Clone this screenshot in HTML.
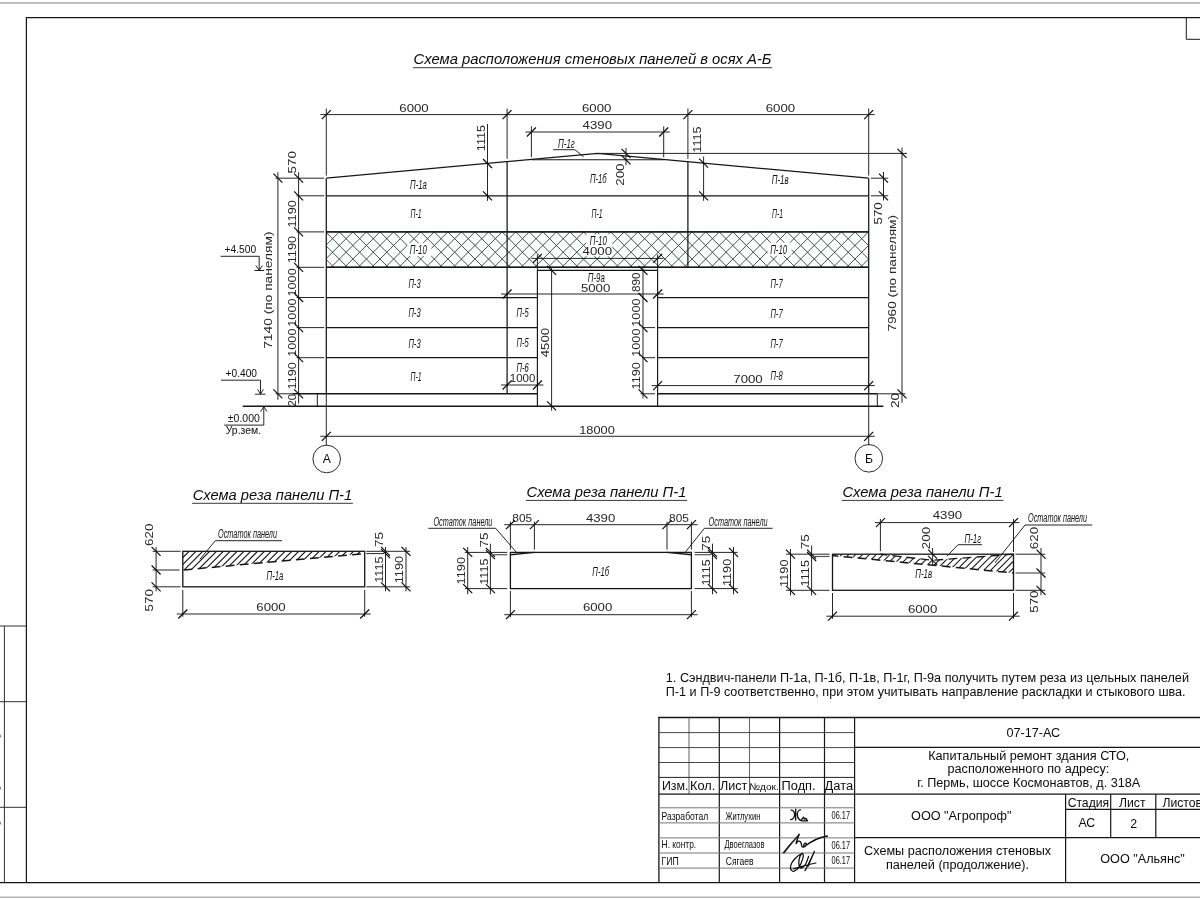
<!DOCTYPE html>
<html lang="ru"><head><meta charset="utf-8"><title>07-17-АС Лист 2</title>
<style>
html,body{margin:0;padding:0;background:#fff;}
body{width:1200px;height:900px;overflow:hidden;font-family:"Liberation Sans",sans-serif;}
svg{display:block;font-family:"Liberation Sans",sans-serif;}
svg text{white-space:pre;}
</style></head><body>
<svg width="1200" height="900" viewBox="0 0 1200 900">
<g style="will-change:transform">
<rect x="0" y="2.2" width="1200" height="1.5" fill="#a9a9a9"/>
<rect x="0" y="896.6" width="1200" height="1.3" fill="#a9a9a9"/>
<line x1="26.4" y1="17.7" x2="1200" y2="17.7" stroke="#161616" stroke-width="1.2"/>
<line x1="26.4" y1="17.1" x2="26.4" y2="882.6" stroke="#161616" stroke-width="1.2"/>
<line x1="0" y1="882.6" x2="1200" y2="882.6" stroke="#161616" stroke-width="1.2"/>
<line x1="1186.3" y1="17.7" x2="1186.3" y2="39.3" stroke="#1a1a1a" stroke-width="1"/>
<line x1="1186.3" y1="39.3" x2="1200" y2="39.3" stroke="#1a1a1a" stroke-width="1"/>
<line x1="4.4" y1="626" x2="4.4" y2="882.6" stroke="#1a1a1a" stroke-width="0.9"/>
<line x1="0" y1="626" x2="26.4" y2="626" stroke="#1a1a1a" stroke-width="0.9"/>
<line x1="0" y1="701.7" x2="26.4" y2="701.7" stroke="#1a1a1a" stroke-width="0.9"/>
<line x1="0" y1="807.3" x2="26.4" y2="807.3" stroke="#1a1a1a" stroke-width="0.9"/>
<line x1="0" y1="734.5" x2="0.8" y2="737.5" stroke="#555" stroke-width="0.8"/>
<line x1="0" y1="786.5" x2="0.8" y2="789.5" stroke="#555" stroke-width="0.8"/>
<line x1="0" y1="821.5" x2="0.8" y2="824.5" stroke="#555" stroke-width="0.8"/>
<defs><clipPath id="cp10"><rect x="326.3" y="231.9" width="542.4" height="35.4"/></clipPath></defs>
<g clip-path="url(#cp10)" stroke="#27503f" stroke-width="0.95" fill="none">
<path d="M257.88 231.9L293.28 267.3M257.88 231.9L222.48 267.3M271.45 231.9L306.85 267.3M271.45 231.9L236.05 267.3M285.02 231.9L320.42 267.3M285.02 231.9L249.62 267.3M298.59 231.9L333.99 267.3M298.59 231.9L263.19 267.3M312.16 231.9L347.56 267.3M312.16 231.9L276.76 267.3M325.73 231.9L361.13 267.3M325.73 231.9L290.33 267.3M339.3 231.9L374.7 267.3M339.3 231.9L303.9 267.3M352.87 231.9L388.27 267.3M352.87 231.9L317.47 267.3M366.44 231.9L401.84 267.3M366.44 231.9L331.04 267.3M380.01 231.9L415.41 267.3M380.01 231.9L344.61 267.3M393.58 231.9L428.98 267.3M393.58 231.9L358.18 267.3M407.15 231.9L442.55 267.3M407.15 231.9L371.75 267.3M420.72 231.9L456.12 267.3M420.72 231.9L385.32 267.3M434.29 231.9L469.69 267.3M434.29 231.9L398.89 267.3M447.86 231.9L483.26 267.3M447.86 231.9L412.46 267.3M461.43 231.9L496.83 267.3M461.43 231.9L426.03 267.3M475 231.9L510.4 267.3M475 231.9L439.6 267.3M488.57 231.9L523.97 267.3M488.57 231.9L453.17 267.3M502.14 231.9L537.54 267.3M502.14 231.9L466.74 267.3M515.71 231.9L551.11 267.3M515.71 231.9L480.31 267.3M529.28 231.9L564.68 267.3M529.28 231.9L493.88 267.3M542.85 231.9L578.25 267.3M542.85 231.9L507.45 267.3M556.42 231.9L591.82 267.3M556.42 231.9L521.02 267.3M569.99 231.9L605.39 267.3M569.99 231.9L534.59 267.3M583.56 231.9L618.96 267.3M583.56 231.9L548.16 267.3M597.13 231.9L632.53 267.3M597.13 231.9L561.73 267.3M610.7 231.9L646.1 267.3M610.7 231.9L575.3 267.3M624.27 231.9L659.67 267.3M624.27 231.9L588.87 267.3M637.84 231.9L673.24 267.3M637.84 231.9L602.44 267.3M651.41 231.9L686.81 267.3M651.41 231.9L616.01 267.3M664.98 231.9L700.38 267.3M664.98 231.9L629.58 267.3M678.55 231.9L713.95 267.3M678.55 231.9L643.15 267.3M692.12 231.9L727.52 267.3M692.12 231.9L656.72 267.3M705.69 231.9L741.09 267.3M705.69 231.9L670.29 267.3M719.26 231.9L754.66 267.3M719.26 231.9L683.86 267.3M732.83 231.9L768.23 267.3M732.83 231.9L697.43 267.3M746.4 231.9L781.8 267.3M746.4 231.9L711 267.3M759.97 231.9L795.37 267.3M759.97 231.9L724.57 267.3M773.54 231.9L808.94 267.3M773.54 231.9L738.14 267.3M787.11 231.9L822.51 267.3M787.11 231.9L751.71 267.3M800.68 231.9L836.08 267.3M800.68 231.9L765.28 267.3M814.25 231.9L849.65 267.3M814.25 231.9L778.85 267.3M827.82 231.9L863.22 267.3M827.82 231.9L792.42 267.3M841.39 231.9L876.79 267.3M841.39 231.9L805.99 267.3M854.96 231.9L890.36 267.3M854.96 231.9L819.56 267.3M868.53 231.9L903.93 267.3M868.53 231.9L833.13 267.3M882.1 231.9L917.5 267.3M882.1 231.9L846.7 267.3M895.67 231.9L931.07 267.3M895.67 231.9L860.27 267.3"/>
</g>
<rect x="407.3" y="243.1" width="24" height="13" fill="#fff"/>
<rect x="586.3" y="234.3" width="26" height="22" fill="#fff"/>
<rect x="767.5" y="242.7" width="24" height="13" fill="#fff"/>
<line x1="326.3" y1="178.2" x2="326.3" y2="393.8" stroke="#161616" stroke-width="1.25"/>
<line x1="868.7" y1="178.2" x2="868.7" y2="393.8" stroke="#161616" stroke-width="1.25"/>
<line x1="507.1" y1="161.67" x2="507.1" y2="393.8" stroke="#161616" stroke-width="1.25"/>
<line x1="687.9" y1="161.67" x2="687.9" y2="267.3" stroke="#161616" stroke-width="1.25"/>
<line x1="507.1" y1="108.5" x2="507.1" y2="158.8" stroke="#1a1a1a" stroke-width="0.95"/>
<line x1="687.9" y1="108.5" x2="687.9" y2="158.8" stroke="#1a1a1a" stroke-width="0.95"/>
<polyline points="326.3,178.2 597.5,153.4 868.7,178.2" fill="none" stroke="#161616" stroke-width="1.25" />
<line x1="326.3" y1="195.8" x2="868.7" y2="195.8" stroke="#161616" stroke-width="1.25"/>
<line x1="326.3" y1="231.9" x2="868.7" y2="231.9" stroke="#161616" stroke-width="1.25"/>
<line x1="326.3" y1="267.3" x2="868.7" y2="267.3" stroke="#161616" stroke-width="1.25"/>
<line x1="326.3" y1="231.9" x2="868.7" y2="231.9" stroke="#161616" stroke-width="1.4"/>
<line x1="326.3" y1="267.3" x2="868.7" y2="267.3" stroke="#161616" stroke-width="1.4"/>
<line x1="326.3" y1="297.5" x2="537.4" y2="297.5" stroke="#161616" stroke-width="1.25"/>
<line x1="657.6" y1="297.5" x2="868.7" y2="297.5" stroke="#161616" stroke-width="1.25"/>
<line x1="326.3" y1="327.6" x2="537.4" y2="327.6" stroke="#161616" stroke-width="1.25"/>
<line x1="657.6" y1="327.6" x2="868.7" y2="327.6" stroke="#161616" stroke-width="1.25"/>
<line x1="326.3" y1="357.7" x2="537.4" y2="357.7" stroke="#161616" stroke-width="1.25"/>
<line x1="657.6" y1="357.7" x2="868.7" y2="357.7" stroke="#161616" stroke-width="1.25"/>
<polyline points="537.4,406.3 537.4,270.4 657.6,270.4 657.6,406.3" fill="none" stroke="#161616" stroke-width="1.15" />
<line x1="293" y1="393.8" x2="537.4" y2="393.8" stroke="#161616" stroke-width="1.5"/>
<line x1="657.6" y1="393.8" x2="877.3" y2="393.8" stroke="#161616" stroke-width="1.5"/>
<line x1="317.3" y1="393.8" x2="317.3" y2="406.3" stroke="#1a1a1a" stroke-width="1"/>
<line x1="877.3" y1="393.8" x2="877.3" y2="406.3" stroke="#1a1a1a" stroke-width="1"/>
<line x1="242.7" y1="406.3" x2="883.4" y2="406.3" stroke="#161616" stroke-width="1.4"/>
<line x1="531.4" y1="159.8" x2="663.7" y2="159.8" stroke="#161616" stroke-width="1.1"/>
<line x1="599.5" y1="153.4" x2="907" y2="153.4" stroke="#1a1a1a" stroke-width="0.95"/>
<line x1="320.3" y1="114.6" x2="874.7" y2="114.6" stroke="#1a1a1a" stroke-width="0.95"/>
<line x1="321.8" y1="119.1" x2="330.8" y2="110.1" stroke="#0a0a0a" stroke-width="1.2"/>
<line x1="502.6" y1="119.1" x2="511.6" y2="110.1" stroke="#0a0a0a" stroke-width="1.2"/>
<line x1="683.4" y1="119.1" x2="692.4" y2="110.1" stroke="#0a0a0a" stroke-width="1.2"/>
<line x1="864.2" y1="119.1" x2="873.2" y2="110.1" stroke="#0a0a0a" stroke-width="1.2"/>
<line x1="326.3" y1="108.5" x2="326.3" y2="175.6" stroke="#1a1a1a" stroke-width="0.95"/>
<line x1="868.7" y1="108.5" x2="868.7" y2="175.6" stroke="#1a1a1a" stroke-width="0.95"/>
<text x="414" y="111.6" font-size="11.4" text-anchor="middle" fill="#262626" textLength="29.4" lengthAdjust="spacingAndGlyphs">6000</text>
<text x="596.7" y="111.6" font-size="11.4" text-anchor="middle" fill="#262626" textLength="29.4" lengthAdjust="spacingAndGlyphs">6000</text>
<text x="780.4" y="111.6" font-size="11.4" text-anchor="middle" fill="#262626" textLength="29.4" lengthAdjust="spacingAndGlyphs">6000</text>
<line x1="525.4" y1="132" x2="669.7" y2="132" stroke="#1a1a1a" stroke-width="0.95"/>
<line x1="526.9" y1="136.5" x2="535.9" y2="127.5" stroke="#0a0a0a" stroke-width="1.2"/>
<line x1="659.2" y1="136.5" x2="668.2" y2="127.5" stroke="#0a0a0a" stroke-width="1.2"/>
<line x1="531.4" y1="126.3" x2="531.4" y2="157.2" stroke="#1a1a1a" stroke-width="0.95"/>
<line x1="663.7" y1="126.3" x2="663.7" y2="157.2" stroke="#1a1a1a" stroke-width="0.95"/>
<text x="597.3" y="129" font-size="11.4" text-anchor="middle" fill="#262626" textLength="29.4" lengthAdjust="spacingAndGlyphs">4390</text>
<line x1="487.5" y1="124" x2="487.5" y2="200.8" stroke="#1a1a1a" stroke-width="0.95"/>
<line x1="483" y1="158.96" x2="492" y2="167.96" stroke="#0a0a0a" stroke-width="1.2"/>
<line x1="483" y1="191.3" x2="492" y2="200.3" stroke="#0a0a0a" stroke-width="1.2"/>
<text x="485" y="138" font-size="11.4" text-anchor="middle" fill="#262626" transform="rotate(-90 485 138)" textLength="26.4" lengthAdjust="spacingAndGlyphs">1115</text>
<line x1="703.6" y1="156.5" x2="703.6" y2="200.8" stroke="#1a1a1a" stroke-width="0.95"/>
<line x1="699.1" y1="158.6" x2="708.1" y2="167.6" stroke="#0a0a0a" stroke-width="1.2"/>
<line x1="699.1" y1="191.3" x2="708.1" y2="200.3" stroke="#0a0a0a" stroke-width="1.2"/>
<text x="700.8" y="139.5" font-size="11.4" text-anchor="middle" fill="#262626" transform="rotate(-90 700.8 139.5)" textLength="26.4" lengthAdjust="spacingAndGlyphs">1115</text>
<line x1="626" y1="148" x2="626" y2="165.2" stroke="#1a1a1a" stroke-width="0.95"/>
<line x1="621.5" y1="148.9" x2="630.5" y2="157.9" stroke="#0a0a0a" stroke-width="1.2"/>
<line x1="621.5" y1="155.4" x2="630.5" y2="164.4" stroke="#0a0a0a" stroke-width="1.2"/>
<text x="624.3" y="174.6" font-size="11.4" text-anchor="middle" fill="#262626" transform="rotate(-90 624.3 174.6)" textLength="22.25" lengthAdjust="spacingAndGlyphs">200</text>
<text x="558" y="147.7" font-size="13" font-style="italic" text-anchor="start" fill="#111" textLength="16.8" lengthAdjust="spacingAndGlyphs">П-1г</text>
<polyline points="553.2,149.7 574.8,149.7 583.6,156.7" fill="none" stroke="#1a1a1a" stroke-width="0.95" />
<line x1="902" y1="147.5" x2="902" y2="402.8" stroke="#1a1a1a" stroke-width="0.95"/>
<line x1="897.5" y1="148.9" x2="906.5" y2="157.9" stroke="#0a0a0a" stroke-width="1.2"/>
<line x1="897.5" y1="389.3" x2="906.5" y2="398.3" stroke="#0a0a0a" stroke-width="1.2"/>
<line x1="877.3" y1="393.8" x2="905.5" y2="393.8" stroke="#1a1a1a" stroke-width="0.95"/>
<text x="895.9" y="273.3" font-size="11.4" text-anchor="middle" fill="#262626" transform="rotate(-90 895.9 273.3)" textLength="116.6" lengthAdjust="spacingAndGlyphs">7960 (по панелям)</text>
<line x1="883.5" y1="172" x2="883.5" y2="200.5" stroke="#1a1a1a" stroke-width="0.95"/>
<line x1="879" y1="173.7" x2="888" y2="182.7" stroke="#0a0a0a" stroke-width="1.2"/>
<line x1="879" y1="191.3" x2="888" y2="200.3" stroke="#0a0a0a" stroke-width="1.2"/>
<line x1="870.8" y1="178.2" x2="888.2" y2="178.2" stroke="#1a1a1a" stroke-width="0.95"/>
<line x1="870.8" y1="195.8" x2="888.2" y2="195.8" stroke="#1a1a1a" stroke-width="0.95"/>
<text x="881.9" y="213.4" font-size="11.4" text-anchor="middle" fill="#262626" transform="rotate(-90 881.9 213.4)" textLength="22.25" lengthAdjust="spacingAndGlyphs">570</text>
<text x="899" y="400.4" font-size="11.4" text-anchor="middle" fill="#262626" transform="rotate(-90 899 400.4)" textLength="15.1" lengthAdjust="spacingAndGlyphs">20</text>
<line x1="277.9" y1="172.2" x2="277.9" y2="399.8" stroke="#1a1a1a" stroke-width="0.95"/>
<line x1="273.4" y1="173.7" x2="282.4" y2="182.7" stroke="#0a0a0a" stroke-width="1.2"/>
<line x1="273.4" y1="389.3" x2="282.4" y2="398.3" stroke="#0a0a0a" stroke-width="1.2"/>
<text x="271.9" y="290.1" font-size="11.4" text-anchor="middle" fill="#262626" transform="rotate(-90 271.9 290.1)" textLength="117.4" lengthAdjust="spacingAndGlyphs">7140 (по панелям)</text>
<line x1="298.6" y1="172.2" x2="298.6" y2="403.6" stroke="#1a1a1a" stroke-width="0.95"/>
<line x1="294.1" y1="173.7" x2="303.1" y2="182.7" stroke="#0a0a0a" stroke-width="1.2"/>
<line x1="294.1" y1="191.3" x2="303.1" y2="200.3" stroke="#0a0a0a" stroke-width="1.2"/>
<line x1="294.1" y1="227.4" x2="303.1" y2="236.4" stroke="#0a0a0a" stroke-width="1.2"/>
<line x1="294.1" y1="262.8" x2="303.1" y2="271.8" stroke="#0a0a0a" stroke-width="1.2"/>
<line x1="294.1" y1="293" x2="303.1" y2="302" stroke="#0a0a0a" stroke-width="1.2"/>
<line x1="294.1" y1="323.1" x2="303.1" y2="332.1" stroke="#0a0a0a" stroke-width="1.2"/>
<line x1="294.1" y1="353.2" x2="303.1" y2="362.2" stroke="#0a0a0a" stroke-width="1.2"/>
<line x1="294.1" y1="389.3" x2="303.1" y2="398.3" stroke="#0a0a0a" stroke-width="1.2"/>
<line x1="275.5" y1="178.2" x2="324.2" y2="178.2" stroke="#1a1a1a" stroke-width="0.95"/>
<line x1="296.6" y1="195.8" x2="324.2" y2="195.8" stroke="#1a1a1a" stroke-width="0.95"/>
<line x1="296.6" y1="231.9" x2="324.2" y2="231.9" stroke="#1a1a1a" stroke-width="0.95"/>
<line x1="296.6" y1="267.3" x2="324.2" y2="267.3" stroke="#1a1a1a" stroke-width="0.95"/>
<line x1="296.6" y1="297.5" x2="324.2" y2="297.5" stroke="#1a1a1a" stroke-width="0.95"/>
<line x1="296.6" y1="327.6" x2="324.2" y2="327.6" stroke="#1a1a1a" stroke-width="0.95"/>
<line x1="296.6" y1="357.7" x2="324.2" y2="357.7" stroke="#1a1a1a" stroke-width="0.95"/>
<line x1="275.5" y1="393.8" x2="296" y2="393.8" stroke="#1a1a1a" stroke-width="0.95"/>
<text x="296" y="162.3" font-size="11.4" text-anchor="middle" fill="#262626" transform="rotate(-90 296 162.3)" textLength="22.25" lengthAdjust="spacingAndGlyphs">570</text>
<text x="296" y="213.85" font-size="11.4" text-anchor="middle" fill="#262626" transform="rotate(-90 296 213.85)" textLength="27.4" lengthAdjust="spacingAndGlyphs">1190</text>
<text x="296" y="249.6" font-size="11.4" text-anchor="middle" fill="#262626" transform="rotate(-90 296 249.6)" textLength="27.4" lengthAdjust="spacingAndGlyphs">1190</text>
<text x="296" y="282.4" font-size="11.4" text-anchor="middle" fill="#262626" transform="rotate(-90 296 282.4)" textLength="28.4" lengthAdjust="spacingAndGlyphs">1000</text>
<text x="296" y="312.55" font-size="11.4" text-anchor="middle" fill="#262626" transform="rotate(-90 296 312.55)" textLength="28.4" lengthAdjust="spacingAndGlyphs">1000</text>
<text x="296" y="342.65" font-size="11.4" text-anchor="middle" fill="#262626" transform="rotate(-90 296 342.65)" textLength="28.4" lengthAdjust="spacingAndGlyphs">1000</text>
<text x="296" y="375.75" font-size="11.4" text-anchor="middle" fill="#262626" transform="rotate(-90 296 375.75)" textLength="27.4" lengthAdjust="spacingAndGlyphs">1190</text>
<text x="296" y="400.3" font-size="11.4" text-anchor="middle" fill="#262626" transform="rotate(-90 296 400.3)" textLength="12.5" lengthAdjust="spacingAndGlyphs">20</text>
<text x="224.6" y="253" font-size="10.2" text-anchor="start" fill="#0b0b0b" textLength="31.6" lengthAdjust="spacingAndGlyphs">+4.500</text>
<polyline points="220.6,256.3 259.2,256.3 259.2,270.4" fill="none" stroke="#1a1a1a" stroke-width="0.95" />
<polyline points="256,265.6 259.2,270.4 262.4,265.6" fill="none" stroke="#1a1a1a" stroke-width="0.95" />
<line x1="254.4" y1="270.5" x2="264.2" y2="270.5" stroke="#1a1a1a" stroke-width="0.95"/>
<text x="225.6" y="376.9" font-size="10.2" text-anchor="start" fill="#0b0b0b" textLength="31.4" lengthAdjust="spacingAndGlyphs">+0.400</text>
<polyline points="221,380.2 260.5,380.2 260.5,394" fill="none" stroke="#1a1a1a" stroke-width="0.95" />
<polyline points="257.6,389.3 260.5,394 263.4,389.3" fill="none" stroke="#1a1a1a" stroke-width="0.95" />
<line x1="255.1" y1="394.2" x2="265.4" y2="394.2" stroke="#1a1a1a" stroke-width="0.95"/>
<text x="227.8" y="422.2" font-size="10.2" text-anchor="start" fill="#0b0b0b" textLength="32" lengthAdjust="spacingAndGlyphs">±0.000</text>
<polyline points="224.2,425.1 263.8,425.1 263.8,406.3" fill="none" stroke="#1a1a1a" stroke-width="0.95" />
<polyline points="260.6,411.6 263.8,406.7 267,411.6" fill="none" stroke="#1a1a1a" stroke-width="0.95" />
<text x="225.7" y="433.8" font-size="10.2" text-anchor="start" fill="#0b0b0b" textLength="35.4" lengthAdjust="spacingAndGlyphs">Ур.зем.</text>
<line x1="531.4" y1="258.4" x2="663.6" y2="258.4" stroke="#1a1a1a" stroke-width="0.95"/>
<line x1="532.9" y1="262.9" x2="541.9" y2="253.9" stroke="#0a0a0a" stroke-width="1.2"/>
<line x1="653.1" y1="262.9" x2="662.1" y2="253.9" stroke="#0a0a0a" stroke-width="1.2"/>
<line x1="537.4" y1="254.5" x2="537.4" y2="270.4" stroke="#1a1a1a" stroke-width="0.95"/>
<line x1="657.6" y1="254.5" x2="657.6" y2="270.4" stroke="#1a1a1a" stroke-width="0.95"/>
<text x="597.3" y="255.3" font-size="11.4" text-anchor="middle" fill="#262626" textLength="29.4" lengthAdjust="spacingAndGlyphs">4000</text>
<line x1="501" y1="294" x2="663.6" y2="294" stroke="#1a1a1a" stroke-width="0.95"/>
<line x1="502.6" y1="298.5" x2="511.6" y2="289.5" stroke="#0a0a0a" stroke-width="1.2"/>
<line x1="653.1" y1="298.5" x2="662.1" y2="289.5" stroke="#0a0a0a" stroke-width="1.2"/>
<text x="595.6" y="291.6" font-size="11.4" text-anchor="middle" fill="#262626" textLength="29.4" lengthAdjust="spacingAndGlyphs">5000</text>
<text x="587.8" y="281.7" font-size="13" font-style="italic" text-anchor="start" fill="#111" textLength="17" lengthAdjust="spacingAndGlyphs">П-9а</text>
<line x1="643" y1="266" x2="643" y2="398.6" stroke="#1a1a1a" stroke-width="0.95"/>
<line x1="638.5" y1="265.9" x2="647.5" y2="274.9" stroke="#0a0a0a" stroke-width="1.2"/>
<line x1="638.5" y1="293" x2="647.5" y2="302" stroke="#0a0a0a" stroke-width="1.2"/>
<line x1="638.5" y1="323.1" x2="647.5" y2="332.1" stroke="#0a0a0a" stroke-width="1.2"/>
<line x1="638.5" y1="353.2" x2="647.5" y2="362.2" stroke="#0a0a0a" stroke-width="1.2"/>
<line x1="638.5" y1="389.3" x2="647.5" y2="398.3" stroke="#0a0a0a" stroke-width="1.2"/>
<line x1="643" y1="327.6" x2="655" y2="327.6" stroke="#1a1a1a" stroke-width="0.95"/>
<line x1="643" y1="357.7" x2="655" y2="357.7" stroke="#1a1a1a" stroke-width="0.95"/>
<line x1="640.5" y1="393.8" x2="655" y2="393.8" stroke="#1a1a1a" stroke-width="0.95"/>
<text x="640.2" y="282.35" font-size="11.4" text-anchor="middle" fill="#262626" transform="rotate(-90 640.2 282.35)" textLength="19.5" lengthAdjust="spacingAndGlyphs">890</text>
<text x="640.2" y="312.55" font-size="11.4" text-anchor="middle" fill="#262626" transform="rotate(-90 640.2 312.55)" textLength="28.4" lengthAdjust="spacingAndGlyphs">1000</text>
<text x="640.2" y="342.65" font-size="11.4" text-anchor="middle" fill="#262626" transform="rotate(-90 640.2 342.65)" textLength="28.4" lengthAdjust="spacingAndGlyphs">1000</text>
<text x="640.2" y="375.75" font-size="11.4" text-anchor="middle" fill="#262626" transform="rotate(-90 640.2 375.75)" textLength="27.4" lengthAdjust="spacingAndGlyphs">1190</text>
<line x1="551.6" y1="267" x2="551.6" y2="410.6" stroke="#1a1a1a" stroke-width="0.95"/>
<line x1="547.1" y1="265.9" x2="556.1" y2="274.9" stroke="#0a0a0a" stroke-width="1.2"/>
<line x1="547.1" y1="401.4" x2="556.1" y2="410.4" stroke="#0a0a0a" stroke-width="1.2"/>
<text x="549.4" y="342.6" font-size="11.4" text-anchor="middle" fill="#262626" transform="rotate(-90 549.4 342.6)" textLength="29.4" lengthAdjust="spacingAndGlyphs">4500</text>
<line x1="501" y1="385" x2="543.4" y2="385" stroke="#1a1a1a" stroke-width="0.95"/>
<line x1="502.6" y1="389.5" x2="511.6" y2="380.5" stroke="#0a0a0a" stroke-width="1.2"/>
<line x1="532.9" y1="389.5" x2="541.9" y2="380.5" stroke="#0a0a0a" stroke-width="1.2"/>
<text x="522.6" y="382.4" font-size="11.4" text-anchor="middle" fill="#262626" textLength="25.6" lengthAdjust="spacingAndGlyphs">1000</text>
<line x1="651.6" y1="385.6" x2="874.8" y2="385.6" stroke="#1a1a1a" stroke-width="0.95"/>
<line x1="653.1" y1="390.1" x2="662.1" y2="381.1" stroke="#0a0a0a" stroke-width="1.2"/>
<line x1="864.2" y1="390.1" x2="873.2" y2="381.1" stroke="#0a0a0a" stroke-width="1.2"/>
<text x="748" y="382.7" font-size="11.4" text-anchor="middle" fill="#262626" textLength="29.4" lengthAdjust="spacingAndGlyphs">7000</text>
<line x1="326.3" y1="406.3" x2="326.3" y2="445.3" stroke="#1a1a1a" stroke-width="0.95"/>
<line x1="868.7" y1="406.3" x2="868.7" y2="445.3" stroke="#1a1a1a" stroke-width="0.95"/>
<line x1="326.3" y1="393.8" x2="326.3" y2="406.3" stroke="#1a1a1a" stroke-width="0.95"/>
<line x1="868.7" y1="393.8" x2="868.7" y2="406.3" stroke="#1a1a1a" stroke-width="0.95"/>
<line x1="320.3" y1="436.3" x2="874.7" y2="436.3" stroke="#1a1a1a" stroke-width="0.95"/>
<line x1="321.8" y1="440.8" x2="330.8" y2="431.8" stroke="#0a0a0a" stroke-width="1.2"/>
<line x1="864.2" y1="440.8" x2="873.2" y2="431.8" stroke="#0a0a0a" stroke-width="1.2"/>
<text x="597" y="434.1" font-size="11.4" text-anchor="middle" fill="#262626" textLength="35.55" lengthAdjust="spacingAndGlyphs">18000</text>
<circle cx="326.7" cy="459.0" r="13.8" fill="none" stroke="#161616" stroke-width="0.9"/>
<circle cx="868.8" cy="458.3" r="13.8" fill="none" stroke="#161616" stroke-width="0.9"/>
<text x="326.9" y="463.2" font-size="12.2" text-anchor="middle" fill="#0b0b0b">А</text>
<text x="868.9" y="462.6" font-size="12.2" text-anchor="middle" fill="#0b0b0b">Б</text>
<text x="410.1" y="188.8" font-size="13" font-style="italic" text-anchor="start" fill="#111" textLength="16.8" lengthAdjust="spacingAndGlyphs">П-1а</text>
<text x="410.6" y="218.1" font-size="13" font-style="italic" text-anchor="start" fill="#111" textLength="11" lengthAdjust="spacingAndGlyphs">П-1</text>
<text x="409.8" y="254.1" font-size="13" font-style="italic" text-anchor="start" fill="#111" textLength="17" lengthAdjust="spacingAndGlyphs">П-10</text>
<text x="408.4" y="287.5" font-size="13" font-style="italic" text-anchor="start" fill="#111" textLength="12.2" lengthAdjust="spacingAndGlyphs">П-3</text>
<text x="408.4" y="317.4" font-size="13" font-style="italic" text-anchor="start" fill="#111" textLength="12.2" lengthAdjust="spacingAndGlyphs">П-3</text>
<text x="408.4" y="347.5" font-size="13" font-style="italic" text-anchor="start" fill="#111" textLength="12.2" lengthAdjust="spacingAndGlyphs">П-3</text>
<text x="410.6" y="380.5" font-size="13" font-style="italic" text-anchor="start" fill="#111" textLength="11" lengthAdjust="spacingAndGlyphs">П-1</text>
<text x="589.9" y="182.9" font-size="13" font-style="italic" text-anchor="start" fill="#111" textLength="16.8" lengthAdjust="spacingAndGlyphs">П-1б</text>
<text x="591.6" y="218.1" font-size="13" font-style="italic" text-anchor="start" fill="#111" textLength="11" lengthAdjust="spacingAndGlyphs">П-1</text>
<text x="589.8" y="245.3" font-size="13" font-style="italic" text-anchor="start" fill="#111" textLength="17" lengthAdjust="spacingAndGlyphs">П-10</text>
<text x="771.8" y="183.5" font-size="13" font-style="italic" text-anchor="start" fill="#111" textLength="16.8" lengthAdjust="spacingAndGlyphs">П-1в</text>
<text x="772" y="218.1" font-size="13" font-style="italic" text-anchor="start" fill="#111" textLength="11" lengthAdjust="spacingAndGlyphs">П-1</text>
<text x="770.2" y="253.6" font-size="13" font-style="italic" text-anchor="start" fill="#111" textLength="17" lengthAdjust="spacingAndGlyphs">П-10</text>
<text x="770.4" y="287.5" font-size="13" font-style="italic" text-anchor="start" fill="#111" textLength="12.2" lengthAdjust="spacingAndGlyphs">П-7</text>
<text x="770.4" y="317.6" font-size="13" font-style="italic" text-anchor="start" fill="#111" textLength="12.2" lengthAdjust="spacingAndGlyphs">П-7</text>
<text x="770.4" y="347.7" font-size="13" font-style="italic" text-anchor="start" fill="#111" textLength="12.2" lengthAdjust="spacingAndGlyphs">П-7</text>
<text x="770.6" y="380" font-size="13" font-style="italic" text-anchor="start" fill="#111" textLength="12.2" lengthAdjust="spacingAndGlyphs">П-8</text>
<text x="516.6" y="317" font-size="13" font-style="italic" text-anchor="start" fill="#111" textLength="12.2" lengthAdjust="spacingAndGlyphs">П-5</text>
<text x="516.6" y="347" font-size="13" font-style="italic" text-anchor="start" fill="#111" textLength="12.2" lengthAdjust="spacingAndGlyphs">П-5</text>
<text x="516.6" y="371.6" font-size="13" font-style="italic" text-anchor="start" fill="#111" textLength="12.2" lengthAdjust="spacingAndGlyphs">П-6</text>
<text x="192.7" y="499.9" font-size="14.75" text-anchor="start" fill="#0b0b0b" textLength="159.4" lengthAdjust="spacingAndGlyphs" font-style="italic">Схема реза панели П-1</text>
<line x1="192.1" y1="503.3" x2="352.9" y2="503.3" stroke="#222" stroke-width="0.9"/>
<defs><clipPath id="hc1"><polygon points="182.8,551.3 364.7,551.3 364.7,553.6 182.8,570"/></clipPath></defs>
<path d="M189.1 551.3L165.1 575.3M195.95 551.3L171.95 575.3M202.8 551.3L178.8 575.3M209.65 551.3L185.65 575.3M216.5 551.3L192.5 575.3M223.35 551.3L199.35 575.3M230.2 551.3L206.2 575.3M237.05 551.3L213.05 575.3M243.9 551.3L219.9 575.3M250.75 551.3L226.75 575.3M257.6 551.3L233.6 575.3M264.45 551.3L240.45 575.3M271.3 551.3L247.3 575.3M278.15 551.3L254.15 575.3M285 551.3L261 575.3M291.85 551.3L267.85 575.3M298.7 551.3L274.7 575.3M305.55 551.3L281.55 575.3M312.4 551.3L288.4 575.3M319.25 551.3L295.25 575.3M326.1 551.3L302.1 575.3M332.95 551.3L308.95 575.3M339.8 551.3L315.8 575.3M346.65 551.3L322.65 575.3M353.5 551.3L329.5 575.3M360.35 551.3L336.35 575.3M367.2 551.3L343.2 575.3M374.05 551.3L350.05 575.3M380.9 551.3L356.9 575.3M387.75 551.3L363.75 575.3" clip-path="url(#hc1)" stroke="#161616" stroke-width="1.1" fill="none"/>
<line x1="182.8" y1="570" x2="364.7" y2="553.6" stroke="#161616" stroke-width="1.5" stroke-dasharray="8.8 5.3" stroke-dashoffset="-0.8"/>
<rect x="182.8" y="551.3" width="181.9" height="35.5" fill="none" stroke="#161616" stroke-width="1.3"/>
<text x="266.6" y="580.4" font-size="13" font-style="italic" text-anchor="start" fill="#111" textLength="16.8" lengthAdjust="spacingAndGlyphs">П-1а</text>
<text x="218" y="538" font-size="12.5" font-style="italic" text-anchor="start" fill="#111" textLength="59" lengthAdjust="spacingAndGlyphs">Остаток панели</text>
<polyline points="282,540.7 215.3,540.7 199.9,559.3" fill="none" stroke="#1a1a1a" stroke-width="0.95" />
<line x1="156.1" y1="547" x2="156.1" y2="591.3" stroke="#1a1a1a" stroke-width="0.95"/>
<line x1="151.6" y1="546.8" x2="160.6" y2="555.8" stroke="#0a0a0a" stroke-width="1.2"/>
<line x1="151.6" y1="565.5" x2="160.6" y2="574.5" stroke="#0a0a0a" stroke-width="1.2"/>
<line x1="151.6" y1="582.3" x2="160.6" y2="591.3" stroke="#0a0a0a" stroke-width="1.2"/>
<line x1="152.6" y1="551.3" x2="180.6" y2="551.3" stroke="#1a1a1a" stroke-width="0.95"/>
<line x1="152.6" y1="570" x2="179.5" y2="570" stroke="#1a1a1a" stroke-width="0.95"/>
<line x1="152.6" y1="586.8" x2="180.6" y2="586.8" stroke="#1a1a1a" stroke-width="0.95"/>
<text x="153.2" y="534.8" font-size="11.4" text-anchor="middle" fill="#262626" transform="rotate(-90 153.2 534.8)" textLength="22.25" lengthAdjust="spacingAndGlyphs">620</text>
<text x="153.2" y="600.3" font-size="11.4" text-anchor="middle" fill="#262626" transform="rotate(-90 153.2 600.3)" textLength="22.25" lengthAdjust="spacingAndGlyphs">570</text>
<line x1="385.5" y1="547" x2="385.5" y2="591.3" stroke="#1a1a1a" stroke-width="0.95"/>
<line x1="381" y1="546.8" x2="390" y2="555.8" stroke="#0a0a0a" stroke-width="1.2"/>
<line x1="381" y1="549.1" x2="390" y2="558.1" stroke="#0a0a0a" stroke-width="1.2"/>
<line x1="381" y1="582.3" x2="390" y2="591.3" stroke="#0a0a0a" stroke-width="1.2"/>
<line x1="406" y1="547" x2="406" y2="591.3" stroke="#1a1a1a" stroke-width="0.95"/>
<line x1="401.5" y1="546.8" x2="410.5" y2="555.8" stroke="#0a0a0a" stroke-width="1.2"/>
<line x1="401.5" y1="582.3" x2="410.5" y2="591.3" stroke="#0a0a0a" stroke-width="1.2"/>
<line x1="366.3" y1="551.3" x2="410.2" y2="551.3" stroke="#1a1a1a" stroke-width="0.95"/>
<line x1="366.3" y1="586.8" x2="410.2" y2="586.8" stroke="#1a1a1a" stroke-width="0.95"/>
<line x1="366.3" y1="553.6" x2="384" y2="553.6" stroke="#1a1a1a" stroke-width="0.95"/>
<text x="382.6" y="539.4" font-size="11.4" text-anchor="middle" fill="#262626" transform="rotate(-90 382.6 539.4)" textLength="15.1" lengthAdjust="spacingAndGlyphs">75</text>
<text x="382.6" y="569.6" font-size="11.4" text-anchor="middle" fill="#262626" transform="rotate(-90 382.6 569.6)" textLength="26.4" lengthAdjust="spacingAndGlyphs">1115</text>
<text x="403.2" y="569.6" font-size="11.4" text-anchor="middle" fill="#262626" transform="rotate(-90 403.2 569.6)" textLength="27.4" lengthAdjust="spacingAndGlyphs">1190</text>
<line x1="182.8" y1="590" x2="182.8" y2="616.8" stroke="#1a1a1a" stroke-width="0.95"/>
<line x1="364.7" y1="590" x2="364.7" y2="616.8" stroke="#1a1a1a" stroke-width="0.95"/>
<line x1="176.8" y1="614" x2="370.7" y2="614" stroke="#1a1a1a" stroke-width="0.95"/>
<line x1="178.3" y1="618.5" x2="187.3" y2="609.5" stroke="#0a0a0a" stroke-width="1.2"/>
<line x1="360.2" y1="618.5" x2="369.2" y2="609.5" stroke="#0a0a0a" stroke-width="1.2"/>
<text x="271" y="610.6" font-size="11.4" text-anchor="middle" fill="#262626" textLength="29.4" lengthAdjust="spacingAndGlyphs">6000</text>
<text x="526.5" y="497" font-size="14.75" text-anchor="start" fill="#0b0b0b" textLength="159.9" lengthAdjust="spacingAndGlyphs" font-style="italic">Схема реза панели П-1</text>
<line x1="525.9" y1="500.4" x2="687.2" y2="500.4" stroke="#222" stroke-width="0.9"/>
<rect x="510.4" y="552.4" width="181" height="36.2" fill="none" stroke="#161616" stroke-width="1.3"/>
<line x1="510.4" y1="554.7" x2="534.4" y2="552.4" stroke="#161616" stroke-width="1.4"/>
<line x1="691.4" y1="554.7" x2="667" y2="552.4" stroke="#161616" stroke-width="1.4"/>
<text x="592.3" y="576.2" font-size="13" font-style="italic" text-anchor="start" fill="#111" textLength="16.8" lengthAdjust="spacingAndGlyphs">П-1б</text>
<line x1="504.3" y1="524.7" x2="697.6" y2="524.7" stroke="#1a1a1a" stroke-width="0.95"/>
<line x1="505.9" y1="529.2" x2="514.9" y2="520.2" stroke="#0a0a0a" stroke-width="1.2"/>
<line x1="510.4" y1="521.6" x2="510.4" y2="549.6" stroke="#1a1a1a" stroke-width="0.95"/>
<line x1="529.9" y1="529.2" x2="538.9" y2="520.2" stroke="#0a0a0a" stroke-width="1.2"/>
<line x1="534.4" y1="521.6" x2="534.4" y2="549.6" stroke="#1a1a1a" stroke-width="0.95"/>
<line x1="662.5" y1="529.2" x2="671.5" y2="520.2" stroke="#0a0a0a" stroke-width="1.2"/>
<line x1="667" y1="521.6" x2="667" y2="549.6" stroke="#1a1a1a" stroke-width="0.95"/>
<line x1="686.9" y1="529.2" x2="695.9" y2="520.2" stroke="#0a0a0a" stroke-width="1.2"/>
<line x1="691.4" y1="521.6" x2="691.4" y2="549.6" stroke="#1a1a1a" stroke-width="0.95"/>
<text x="522.2" y="521.7" font-size="11.4" text-anchor="middle" fill="#262626" textLength="19.8" lengthAdjust="spacingAndGlyphs">805</text>
<text x="600.6" y="521.7" font-size="11.4" text-anchor="middle" fill="#262626" textLength="29.4" lengthAdjust="spacingAndGlyphs">4390</text>
<text x="679" y="521.7" font-size="11.4" text-anchor="middle" fill="#262626" textLength="19.8" lengthAdjust="spacingAndGlyphs">805</text>
<text x="433.4" y="525.7" font-size="12.5" font-style="italic" text-anchor="start" fill="#111" textLength="59" lengthAdjust="spacingAndGlyphs">Остаток панели</text>
<polyline points="428.3,528.3 495.7,528.3 517,553" fill="none" stroke="#1a1a1a" stroke-width="0.95" />
<text x="708.6" y="525.7" font-size="12.5" font-style="italic" text-anchor="start" fill="#111" textLength="59" lengthAdjust="spacingAndGlyphs">Остаток панели</text>
<polyline points="772.6,528.3 704.4,528.3 684.6,553" fill="none" stroke="#1a1a1a" stroke-width="0.95" />
<line x1="467.7" y1="547" x2="467.7" y2="594.3" stroke="#1a1a1a" stroke-width="0.95"/>
<line x1="463.2" y1="547.9" x2="472.2" y2="556.9" stroke="#0a0a0a" stroke-width="1.2"/>
<line x1="463.2" y1="584.1" x2="472.2" y2="593.1" stroke="#0a0a0a" stroke-width="1.2"/>
<line x1="490.4" y1="543.7" x2="490.4" y2="594.3" stroke="#1a1a1a" stroke-width="0.95"/>
<line x1="485.9" y1="547.9" x2="494.9" y2="556.9" stroke="#0a0a0a" stroke-width="1.2"/>
<line x1="485.9" y1="550.2" x2="494.9" y2="559.2" stroke="#0a0a0a" stroke-width="1.2"/>
<line x1="485.9" y1="584.1" x2="494.9" y2="593.1" stroke="#0a0a0a" stroke-width="1.2"/>
<line x1="464.8" y1="552.4" x2="507.2" y2="552.4" stroke="#1a1a1a" stroke-width="0.95"/>
<line x1="464.8" y1="588.6" x2="507.2" y2="588.6" stroke="#1a1a1a" stroke-width="0.95"/>
<line x1="491.5" y1="554.7" x2="507.2" y2="554.7" stroke="#555" stroke-width="1.2"/>
<text x="465" y="570.7" font-size="11.4" text-anchor="middle" fill="#262626" transform="rotate(-90 465 570.7)" textLength="27.4" lengthAdjust="spacingAndGlyphs">1190</text>
<text x="487.7" y="571.6" font-size="11.4" text-anchor="middle" fill="#262626" transform="rotate(-90 487.7 571.6)" textLength="26.4" lengthAdjust="spacingAndGlyphs">1115</text>
<text x="487.7" y="540" font-size="11.4" text-anchor="middle" fill="#262626" transform="rotate(-90 487.7 540)" textLength="15.1" lengthAdjust="spacingAndGlyphs">75</text>
<line x1="712.5" y1="543.7" x2="712.5" y2="594.3" stroke="#1a1a1a" stroke-width="0.95"/>
<line x1="708" y1="547.9" x2="717" y2="556.9" stroke="#0a0a0a" stroke-width="1.2"/>
<line x1="708" y1="550.2" x2="717" y2="559.2" stroke="#0a0a0a" stroke-width="1.2"/>
<line x1="708" y1="584.1" x2="717" y2="593.1" stroke="#0a0a0a" stroke-width="1.2"/>
<line x1="733.5" y1="547" x2="733.5" y2="594.3" stroke="#1a1a1a" stroke-width="0.95"/>
<line x1="729" y1="547.9" x2="738" y2="556.9" stroke="#0a0a0a" stroke-width="1.2"/>
<line x1="729" y1="584.1" x2="738" y2="593.1" stroke="#0a0a0a" stroke-width="1.2"/>
<line x1="694.6" y1="552.4" x2="737.6" y2="552.4" stroke="#1a1a1a" stroke-width="0.95"/>
<line x1="694.6" y1="588.6" x2="737.6" y2="588.6" stroke="#1a1a1a" stroke-width="0.95"/>
<line x1="694.6" y1="554.7" x2="711" y2="554.7" stroke="#555" stroke-width="1.2"/>
<text x="709.6" y="543.2" font-size="11.4" text-anchor="middle" fill="#262626" transform="rotate(-90 709.6 543.2)" textLength="15.1" lengthAdjust="spacingAndGlyphs">75</text>
<text x="709.6" y="572.4" font-size="11.4" text-anchor="middle" fill="#262626" transform="rotate(-90 709.6 572.4)" textLength="26.4" lengthAdjust="spacingAndGlyphs">1115</text>
<text x="730.7" y="572.4" font-size="11.4" text-anchor="middle" fill="#262626" transform="rotate(-90 730.7 572.4)" textLength="27.4" lengthAdjust="spacingAndGlyphs">1190</text>
<line x1="510.4" y1="591" x2="510.4" y2="617.4" stroke="#1a1a1a" stroke-width="0.95"/>
<line x1="691.4" y1="591" x2="691.4" y2="617.4" stroke="#1a1a1a" stroke-width="0.95"/>
<line x1="504.3" y1="614.7" x2="697.6" y2="614.7" stroke="#1a1a1a" stroke-width="0.95"/>
<line x1="505.9" y1="619.2" x2="514.9" y2="610.2" stroke="#0a0a0a" stroke-width="1.2"/>
<line x1="686.9" y1="619.2" x2="695.9" y2="610.2" stroke="#0a0a0a" stroke-width="1.2"/>
<text x="597.6" y="611.4" font-size="11.4" text-anchor="middle" fill="#262626" textLength="29.4" lengthAdjust="spacingAndGlyphs">6000</text>
<text x="842.4" y="497" font-size="14.75" text-anchor="start" fill="#0b0b0b" textLength="160.2" lengthAdjust="spacingAndGlyphs" font-style="italic">Схема реза панели П-1</text>
<line x1="841.8" y1="500.4" x2="1003.4" y2="500.4" stroke="#222" stroke-width="0.9"/>
<defs><clipPath id="hc2"><polygon points="832.5,554.2 880.4,554.2 932.6,560.3 1013.5,554.2 1013.5,573 832.5,555.6"/></clipPath></defs>
<path d="M835.5 554.2L811.5 578.2M842.35 554.2L818.35 578.2M849.2 554.2L825.2 578.2M856.05 554.2L832.05 578.2M862.9 554.2L838.9 578.2M869.75 554.2L845.75 578.2M876.6 554.2L852.6 578.2M883.45 554.2L859.45 578.2M890.3 554.2L866.3 578.2M897.15 554.2L873.15 578.2M904 554.2L880 578.2M910.85 554.2L886.85 578.2M917.7 554.2L893.7 578.2M924.55 554.2L900.55 578.2M931.4 554.2L907.4 578.2M938.25 554.2L914.25 578.2M945.1 554.2L921.1 578.2M951.95 554.2L927.95 578.2M958.8 554.2L934.8 578.2M965.65 554.2L941.65 578.2M972.5 554.2L948.5 578.2M979.35 554.2L955.35 578.2M986.2 554.2L962.2 578.2M993.05 554.2L969.05 578.2M999.9 554.2L975.9 578.2M1006.75 554.2L982.75 578.2M1013.6 554.2L989.6 578.2M1020.45 554.2L996.45 578.2M1027.3 554.2L1003.3 578.2M1034.15 554.2L1010.15 578.2M1041 554.2L1017 578.2M1047.85 554.2L1023.85 578.2M1054.7 554.2L1030.7 578.2" clip-path="url(#hc2)" stroke="#161616" stroke-width="1.1" fill="none"/>
<polyline points="880.4,554.2 932.6,560.3 1013.5,554.2" fill="none" stroke="#161616" stroke-width="1.3" stroke-dasharray="8.8 5.3" stroke-dashoffset="2"/>
<line x1="832.5" y1="555.6" x2="1013.5" y2="573" stroke="#161616" stroke-width="1.5" stroke-dasharray="8.8 5.3" stroke-dashoffset="3"/>
<rect x="832.5" y="554.2" width="181" height="36.1" fill="none" stroke="#161616" stroke-width="1.3"/>
<text x="915.3" y="577.5" font-size="13" font-style="italic" text-anchor="start" fill="#111" textLength="16.8" lengthAdjust="spacingAndGlyphs">П-1в</text>
<line x1="874.8" y1="522.6" x2="1019.4" y2="522.6" stroke="#1a1a1a" stroke-width="0.95"/>
<line x1="875.9" y1="527.1" x2="884.9" y2="518.1" stroke="#0a0a0a" stroke-width="1.2"/>
<line x1="1009" y1="527.1" x2="1018" y2="518.1" stroke="#0a0a0a" stroke-width="1.2"/>
<line x1="880.4" y1="519" x2="880.4" y2="551.2" stroke="#1a1a1a" stroke-width="0.95"/>
<line x1="1013.5" y1="519" x2="1013.5" y2="552" stroke="#1a1a1a" stroke-width="0.95"/>
<text x="947.4" y="519.4" font-size="11.4" text-anchor="middle" fill="#262626" textLength="29.4" lengthAdjust="spacingAndGlyphs">4390</text>
<line x1="932.6" y1="548" x2="932.6" y2="565.2" stroke="#1a1a1a" stroke-width="0.95"/>
<line x1="928.1" y1="549.7" x2="937.1" y2="558.7" stroke="#0a0a0a" stroke-width="1.2"/>
<line x1="928.1" y1="555.9" x2="937.1" y2="564.9" stroke="#0a0a0a" stroke-width="1.2"/>
<text x="929.7" y="538" font-size="11.4" text-anchor="middle" fill="#262626" transform="rotate(-90 929.7 538)" textLength="22.25" lengthAdjust="spacingAndGlyphs">200</text>
<text x="964.4" y="542.6" font-size="13" font-style="italic" text-anchor="start" fill="#111" textLength="16.8" lengthAdjust="spacingAndGlyphs">П-1г</text>
<polyline points="982,544.7 958,544.7 947,556.2" fill="none" stroke="#1a1a1a" stroke-width="0.95" />
<text x="1028" y="522" font-size="12.5" font-style="italic" text-anchor="start" fill="#111" textLength="59" lengthAdjust="spacingAndGlyphs">Остаток панели</text>
<polyline points="1092.2,525 1025,525 995,563" fill="none" stroke="#1a1a1a" stroke-width="0.95" />
<line x1="790.5" y1="549" x2="790.5" y2="595.5" stroke="#1a1a1a" stroke-width="0.95"/>
<line x1="786" y1="549.7" x2="795" y2="558.7" stroke="#0a0a0a" stroke-width="1.2"/>
<line x1="786" y1="585.8" x2="795" y2="594.8" stroke="#0a0a0a" stroke-width="1.2"/>
<line x1="811.6" y1="545.5" x2="811.6" y2="595.5" stroke="#1a1a1a" stroke-width="0.95"/>
<line x1="807.1" y1="549.7" x2="816.1" y2="558.7" stroke="#0a0a0a" stroke-width="1.2"/>
<line x1="807.1" y1="552" x2="816.1" y2="561" stroke="#0a0a0a" stroke-width="1.2"/>
<line x1="807.1" y1="585.8" x2="816.1" y2="594.8" stroke="#0a0a0a" stroke-width="1.2"/>
<line x1="786" y1="554.2" x2="829.6" y2="554.2" stroke="#1a1a1a" stroke-width="0.95"/>
<line x1="786" y1="590.3" x2="829.6" y2="590.3" stroke="#1a1a1a" stroke-width="0.95"/>
<line x1="813.5" y1="556.5" x2="829.6" y2="556.5" stroke="#555" stroke-width="1.2"/>
<text x="787.6" y="573.2" font-size="11.4" text-anchor="middle" fill="#262626" transform="rotate(-90 787.6 573.2)" textLength="27.4" lengthAdjust="spacingAndGlyphs">1190</text>
<text x="808.6" y="573.2" font-size="11.4" text-anchor="middle" fill="#262626" transform="rotate(-90 808.6 573.2)" textLength="26.4" lengthAdjust="spacingAndGlyphs">1115</text>
<text x="808.6" y="541.8" font-size="11.4" text-anchor="middle" fill="#262626" transform="rotate(-90 808.6 541.8)" textLength="15.1" lengthAdjust="spacingAndGlyphs">75</text>
<line x1="1041" y1="548" x2="1041" y2="595.2" stroke="#1a1a1a" stroke-width="0.95"/>
<line x1="1036.5" y1="549.7" x2="1045.5" y2="558.7" stroke="#0a0a0a" stroke-width="1.2"/>
<line x1="1036.5" y1="568.5" x2="1045.5" y2="577.5" stroke="#0a0a0a" stroke-width="1.2"/>
<line x1="1036.5" y1="585.8" x2="1045.5" y2="594.8" stroke="#0a0a0a" stroke-width="1.2"/>
<line x1="1015.4" y1="554.2" x2="1045.2" y2="554.2" stroke="#1a1a1a" stroke-width="0.95"/>
<line x1="1015.4" y1="573" x2="1045.2" y2="573" stroke="#444" stroke-width="1.1"/>
<line x1="1015.4" y1="590.3" x2="1045.2" y2="590.3" stroke="#1a1a1a" stroke-width="0.95"/>
<text x="1038" y="538" font-size="11.4" text-anchor="middle" fill="#262626" transform="rotate(-90 1038 538)" textLength="22.25" lengthAdjust="spacingAndGlyphs">620</text>
<text x="1038" y="601.6" font-size="11.4" text-anchor="middle" fill="#262626" transform="rotate(-90 1038 601.6)" textLength="22.25" lengthAdjust="spacingAndGlyphs">570</text>
<line x1="832.5" y1="593" x2="832.5" y2="618.8" stroke="#1a1a1a" stroke-width="0.95"/>
<line x1="1013.5" y1="593" x2="1013.5" y2="618.8" stroke="#1a1a1a" stroke-width="0.95"/>
<line x1="826.4" y1="616.2" x2="1019.6" y2="616.2" stroke="#1a1a1a" stroke-width="0.95"/>
<line x1="828" y1="620.7" x2="837" y2="611.7" stroke="#0a0a0a" stroke-width="1.2"/>
<line x1="1009" y1="620.7" x2="1018" y2="611.7" stroke="#0a0a0a" stroke-width="1.2"/>
<text x="922.6" y="612.6" font-size="11.4" text-anchor="middle" fill="#262626" textLength="29.4" lengthAdjust="spacingAndGlyphs">6000</text>
<text x="665.8" y="682" font-size="12.65" text-anchor="start" fill="#0b0b0b" textLength="523.2" lengthAdjust="spacingAndGlyphs">1. Сэндвич-панели П-1а, П-1б, П-1в, П-1г, П-9а получить путем реза из цельных панелей</text>
<text x="665.8" y="695.7" font-size="12.65" text-anchor="start" fill="#0b0b0b" textLength="519.8" lengthAdjust="spacingAndGlyphs">П-1 и П-9 соответственно, при этом учитывать направление раскладки и стыкового шва.</text>
<text x="413.6" y="64.4" font-size="14.75" text-anchor="start" fill="#0b0b0b" textLength="357.9" lengthAdjust="spacingAndGlyphs" font-style="italic">Схема расположения стеновых панелей в осях А-Б</text>
<line x1="413" y1="67.7" x2="772.2" y2="67.7" stroke="#222" stroke-width="0.9"/>
<line x1="658.9" y1="716.9" x2="658.9" y2="882.6" stroke="#161616" stroke-width="1.3"/>
<line x1="658.3" y1="717.5" x2="1200" y2="717.5" stroke="#161616" stroke-width="1.3"/>
<line x1="719.3" y1="717.5" x2="719.3" y2="882.6" stroke="#161616" stroke-width="1.2"/>
<line x1="779.6" y1="717.5" x2="779.6" y2="882.6" stroke="#161616" stroke-width="1.2"/>
<line x1="824.5" y1="717.5" x2="824.5" y2="882.6" stroke="#161616" stroke-width="1.2"/>
<line x1="854.6" y1="717.5" x2="854.6" y2="882.6" stroke="#161616" stroke-width="1.2"/>
<line x1="689" y1="717.5" x2="689" y2="794.1" stroke="#505050" stroke-width="0.9"/>
<line x1="749.5" y1="717.5" x2="749.5" y2="794.1" stroke="#505050" stroke-width="0.9"/>
<line x1="658.9" y1="732.6" x2="854.6" y2="732.6" stroke="#333" stroke-width="0.9"/>
<line x1="658.9" y1="747.6" x2="854.6" y2="747.6" stroke="#333" stroke-width="0.9"/>
<line x1="658.9" y1="762.5" x2="854.6" y2="762.5" stroke="#333" stroke-width="0.9"/>
<line x1="658.9" y1="777.4" x2="854.6" y2="777.4" stroke="#222" stroke-width="1"/>
<line x1="658.9" y1="794.1" x2="854.6" y2="794.1" stroke="#161616" stroke-width="1.2"/>
<line x1="658.9" y1="807.8" x2="854.6" y2="807.8" stroke="#777" stroke-width="1"/>
<line x1="658.9" y1="822.9" x2="854.6" y2="822.9" stroke="#777" stroke-width="1"/>
<line x1="658.9" y1="837.9" x2="854.6" y2="837.9" stroke="#777" stroke-width="1"/>
<line x1="658.9" y1="853" x2="854.6" y2="853" stroke="#777" stroke-width="1"/>
<line x1="658.9" y1="868.1" x2="854.6" y2="868.1" stroke="#777" stroke-width="1"/>
<line x1="854.6" y1="747.4" x2="1200" y2="747.4" stroke="#161616" stroke-width="1.2"/>
<line x1="854.6" y1="794.2" x2="1200" y2="794.2" stroke="#161616" stroke-width="1.2"/>
<line x1="854.6" y1="837.7" x2="1200" y2="837.7" stroke="#161616" stroke-width="1.2"/>
<line x1="1065.6" y1="794.2" x2="1065.6" y2="882.6" stroke="#161616" stroke-width="1.2"/>
<line x1="1110.7" y1="794.2" x2="1110.7" y2="837.7" stroke="#161616" stroke-width="1.2"/>
<line x1="1155.8" y1="794.2" x2="1155.8" y2="837.7" stroke="#161616" stroke-width="1.2"/>
<line x1="1065.6" y1="809.4" x2="1200" y2="809.4" stroke="#161616" stroke-width="1.2"/>
<text x="661.9" y="789.5" font-size="12.3" text-anchor="start" fill="#0b0b0b" textLength="26.6" lengthAdjust="spacingAndGlyphs">Изм.</text>
<text x="690" y="789.5" font-size="12.3" text-anchor="start" fill="#0b0b0b" textLength="25.2" lengthAdjust="spacingAndGlyphs">Кол.</text>
<text x="720" y="789.5" font-size="12.3" text-anchor="start" fill="#0b0b0b" textLength="27.3" lengthAdjust="spacingAndGlyphs">Лист</text>
<text x="749.2" y="789.5" font-size="9.7" text-anchor="start" fill="#0b0b0b" textLength="29.6" lengthAdjust="spacingAndGlyphs">№док.</text>
<text x="781.6" y="789.5" font-size="12.3" text-anchor="start" fill="#0b0b0b" textLength="34" lengthAdjust="spacingAndGlyphs">Подп.</text>
<text x="824.6" y="789.5" font-size="12.3" text-anchor="start" fill="#0b0b0b" textLength="28.6" lengthAdjust="spacingAndGlyphs">Дата</text>
<text x="661.6" y="819.7" font-size="10.1" text-anchor="start" fill="#0b0b0b" textLength="46.6" lengthAdjust="spacingAndGlyphs">Разработал</text>
<text x="725.4" y="819.7" font-size="10.1" text-anchor="start" fill="#0b0b0b" textLength="35" lengthAdjust="spacingAndGlyphs">Житлухин</text>
<text x="831.6" y="819.2" font-size="10.1" text-anchor="start" fill="#0b0b0b" textLength="18.4" lengthAdjust="spacingAndGlyphs">06.17</text>
<text x="661.6" y="848.3" font-size="10.1" text-anchor="start" fill="#0b0b0b" textLength="34.6" lengthAdjust="spacingAndGlyphs">Н. контр.</text>
<text x="724.5" y="847.6" font-size="10.1" text-anchor="start" fill="#0b0b0b" textLength="40" lengthAdjust="spacingAndGlyphs">Двоеглазов</text>
<text x="831.6" y="848.6" font-size="10.1" text-anchor="start" fill="#0b0b0b" textLength="18.4" lengthAdjust="spacingAndGlyphs">06.17</text>
<text x="661.6" y="865" font-size="10.1" text-anchor="start" fill="#0b0b0b" textLength="17.2" lengthAdjust="spacingAndGlyphs">ГИП</text>
<text x="725.8" y="865" font-size="10.1" text-anchor="start" fill="#0b0b0b" textLength="27.8" lengthAdjust="spacingAndGlyphs">Сягаев</text>
<text x="831.6" y="863.8" font-size="10.1" text-anchor="start" fill="#0b0b0b" textLength="18.4" lengthAdjust="spacingAndGlyphs">06.17</text>
<text x="1033.3" y="736.6" font-size="12.65" text-anchor="middle" fill="#0b0b0b">07-17-АС</text>
<text x="1028.8" y="759.9" font-size="12.65" text-anchor="middle" fill="#0b0b0b">Капитальный ремонт здания СТО,</text>
<text x="1028.4" y="773" font-size="12.65" text-anchor="middle" fill="#0b0b0b">расположенного по адресу:</text>
<text x="1028.7" y="786.6" font-size="12.65" text-anchor="middle" fill="#0b0b0b">г. Пермь, шоссе Космонавтов, д. 318А</text>
<text x="961.3" y="820.3" font-size="12.65" text-anchor="middle" fill="#0b0b0b">ООО "Агропроф"</text>
<text x="957.6" y="854.7" font-size="12.65" text-anchor="middle" fill="#0b0b0b">Схемы расположения стеновых</text>
<text x="957.5" y="869.3" font-size="12.65" text-anchor="middle" fill="#0b0b0b">панелей (продолжение).</text>
<text x="1142.5" y="862.6" font-size="12.65" text-anchor="middle" fill="#0b0b0b">ООО "Альянс"</text>
<text x="1088.4" y="806.8" font-size="12.2" text-anchor="middle" fill="#0b0b0b">Стадия</text>
<text x="1132.3" y="806.8" font-size="12.2" text-anchor="middle" fill="#0b0b0b">Лист</text>
<text x="1162.4" y="806.8" font-size="12.2" text-anchor="start" fill="#0b0b0b">Листов</text>
<text x="1086.8" y="826.8" font-size="12.3" text-anchor="middle" fill="#0b0b0b">АС</text>
<text x="1133.6" y="827.8" font-size="12.3" text-anchor="middle" fill="#0b0b0b">2</text>
<path d="M791.1 810.2C793.5 810 794.8 812.5 794.6 814.7C794.4 817 792.8 819.3 790.6 819.6M795.7 809.2L795.7 820.2M800.6 809.8C798.4 810 797.2 812.6 797.3 814.8C797.4 817.2 798.3 818.8 799.4 819.6C800.5 820.4 801.4 820.9 803 820.9L807.6 820.9M801.6 819.6L803.4 817.2L804.6 819.2L805.8 818.2L807.4 820.6" stroke-width="1.3" fill="none" stroke="#0c0c0c" stroke-linecap="round" stroke-linejoin="round"/>
<path d="M783.0 852.8L786.6 848.2C789.4 844.6 792.4 841.2 795.6 838.0L799.3 834.0L798.6 836.6C795.8 839.2 792.6 842.8 789.6 846.4C787.6 848.8 785.8 851.0 784.2 853.2Z" fill="#0c0c0c" stroke="#0c0c0c" stroke-width="0.6" stroke-linejoin="round"/>
<path d="M799.1 834.3C798.0 837.5 796.8 840.6 796.0 843.6C797 841.6 798.6 840.6 800 841.4C801.6 842.3 801.4 844.8 801.8 846.2C802.4 847.6 804.6 847.2 805.6 845.8C806.6 844.4 806.6 843.2 805.4 843.2C804.2 843.4 803.4 844.8 803.8 846.2M804.5 846.6C810 842 818 837.6 827.4 836.0" stroke-width="1.35" fill="none" stroke="#0c0c0c" stroke-linecap="round" stroke-linejoin="round"/>
<path d="M802.4 853.2C797 855.5 791.5 861.5 790.6 866C790 869.5 792 871.8 794.2 871.2C797.5 870.2 801 864.5 802.8 858.6C803.6 855.8 803.4 853.6 802.2 853.6C800.4 853.8 798.8 858.6 798.8 863C798.8 866.6 800.2 868.6 802 867.8C804.6 866.6 807.2 861.4 808.6 856.4M805 870.6C808.6 863.8 812 856.6 814.4 851.4C812.4 856.8 809.4 862.4 808.2 866.2M793.4 868.8C800 866.6 808.6 864.4 815.8 863.0" stroke-width="1.25" fill="none" stroke="#0c0c0c" stroke-linecap="round" stroke-linejoin="round"/>
</g>
</svg>
</body></html>
